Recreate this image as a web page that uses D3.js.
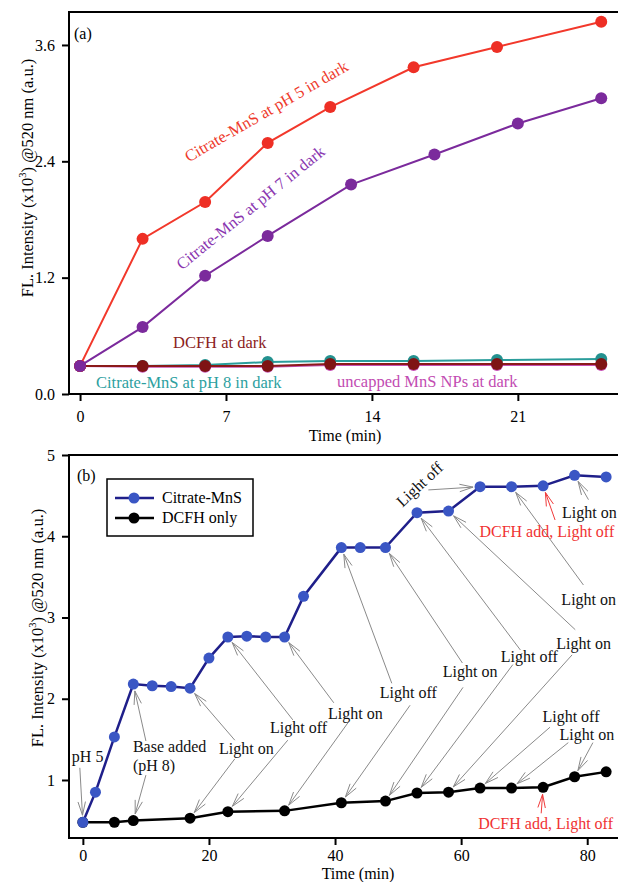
<!DOCTYPE html>
<html>
<head>
<meta charset="utf-8">
<script src="https://cdn.jsdelivr.net/npm/d3@7"></script>
<style>
  body { margin: 0; background: #fff; }
  text { font-family: "Liberation Serif", "DejaVu Serif", serif; }
</style>
</head>
<body>
<div id="chart"></div>
<script>
// ---- panel (a) data ----
const timeA = [0, 3, 6, 9, 12, 16, 20, 25]
const timeA7 = [0, 3, 6, 9, 13, 17, 21, 25]
const pH5Dark = [0.29, 1.60, 1.98, 2.59, 2.96, 3.37, 3.58, 3.84]
const pH7Dark = [0.29, 0.69, 1.22, 1.63, 2.16, 2.47, 2.79, 3.05]
const pH8Dark = [0.29, 0.29, 0.30, 0.33, 0.34, 0.34, 0.35, 0.36]
const uncappedDark = [0.29, 0.28, 0.28, 0.28, 0.30, 0.30, 0.30, 0.30]
const dcfhDark = [0.29, 0.29, 0.29, 0.29, 0.31, 0.31, 0.31, 0.31]
const ticksAx = [0, 7, 14, 21]
const ticksAy = [0, 1.2, 2.4, 3.6]

// ---- panel (b) data ----
const timeB = [0, 2, 5, 8, 11, 14, 17, 20, 23, 26, 29, 32, 35, 41, 44, 48, 53, 58, 63, 68, 73, 78, 83]
const citrateMnS = [0.48, 0.85, 1.53, 2.18, 2.16, 2.15, 2.13, 2.50, 2.76, 2.77, 2.76, 2.76, 3.26,
  3.86, 3.86, 3.86, 4.29, 4.31, 4.61, 4.61, 4.62, 4.75, 4.73]
const timeBdcfh = [0, 5, 8, 17, 23, 32, 41, 48, 53, 58, 63, 68, 73, 78, 83]
const dcfhOnly = [0.48, 0.48, 0.50, 0.53, 0.61, 0.62, 0.72, 0.74, 0.84, 0.85, 0.90, 0.90, 0.91, 1.04, 1.10]
const ticksBx = [0, 20, 40, 60, 80]
const ticksBy = [1, 2, 3, 4, 5]

// annotations of panel (b): text anchor and arrow starts in data units (time, intensity),
// each arrow points at a point of series "c" (Citrate-MnS) or "d" (DCFH only)
const notesB = [
  { text: ["pH 5"], at: [-1.75, 1.22], arrows: [[-0.48, 1.15, "d", 0]] },
  { text: ["Base added", "(pH 8)"], at: [7.94, 1.34], arrows: [[10.0, 1.48, "c", 3], [10.0, 1.06, "d", 2]] },
  { text: ["Light on"], at: [21.6, 1.32], arrows: [[24.1, 1.49, "c", 6], [24.1, 1.26, "d", 3]] },
  { text: ["Light off"], at: [29.7, 1.58], arrows: [[33.3, 1.74, "c", 8], [32.5, 1.49, "d", 4]] },
  { text: ["Light on"], at: [38.9, 1.75], arrows: [[39.8, 1.95, "c", 11], [42.1, 1.71, "d", 5]] },
  { text: ["Light off"], at: [47.1, 2.01], arrows: [[49.0, 2.19, "c", 13], [51.9, 1.92, "d", 6]] },
  { text: ["Light on"], at: [57.1, 2.27], arrows: [[60.2, 2.44, "c", 15], [60.3, 2.14, "d", 7]] },
  { text: ["Light off"], at: [66.3, 2.45], arrows: [[69.4, 2.60, "c", 16], [68.2, 2.42, "d", 8]] },
  { text: ["Light on"], at: [75.1, 2.61], arrows: [[78.1, 2.85, "c", 17], [77.6, 2.54, "d", 9]] },
  { text: ["Light on"], at: [75.9, 3.15], arrows: [[79.4, 3.40, "c", 19]] },
  { text: ["Light off"], at: [72.9, 1.71], arrows: [[74.1, 1.65, "d", 10]] },
  { text: ["Light on"], at: [75.6, 1.49], arrows: [[77.0, 1.46, "d", 11], [80.9, 1.46, "d", 13]] },
  { text: ["Light on"], at: [76.0, 4.22], arrows: [[80.2, 4.45, "c", 21]] },
  { text: ["DCFH add, Light off"], at: [62.9, 3.99], arrows: [[74.9, 4.20, "c", 20]], red: true },
  { text: ["DCFH add, Light off"], at: [62.7, 0.40], arrows: [[72.7, 0.59, "d", 12]], red: true },
  { text: ["Light off"], at: [54.0, 4.59], arrows: [[54.8, 4.57, "c", 18]], rotate: -43 }
]

const W = 618, H = 882
const svg = d3.select("#chart").append("svg").attr("width", W).attr("height", H)

const xA = d3.scaleLinear().domain([-0.53, 25.9]).range([69, 620])
const yA = d3.scaleLinear().domain([0, 3.94]).range([394, 12])
const xB = d3.scaleLinear().domain([-2.2, 85.2]).range([69, 620])
const yB = d3.scaleLinear().domain([0.286, 5]).range([838, 455])

function frame(x, y) {
  svg.append("rect")
    .attr("x", x.range()[0]).attr("y", y.range()[1])
    .attr("width", x.range()[1] - x.range()[0]).attr("height", y.range()[0] - y.range()[1])
    .attr("fill", "none").attr("stroke", "#000").attr("stroke-width", 2)
}

function axes(x, y, tx, ty, fmt, padX) {
  const gx = svg.append("g").attr("transform", `translate(0,${y.range()[0]})`)
    .call(d3.axisBottom(x).tickValues(tx).tickSize(7).tickSizeOuter(0).tickPadding(padX))
  const gy = svg.append("g").attr("transform", `translate(${x.range()[0]},0)`)
    .call(d3.axisLeft(y).tickValues(ty).tickFormat(fmt).tickSize(7).tickSizeOuter(0).tickPadding(7))
  for (const g of [gx, gy]) {
    g.select(".domain").remove()
    g.selectAll("line").attr("stroke-width", 2)
    g.selectAll("text").attr("font-size", 16).attr("fill", "#000")
      .style("font-family", "Liberation Serif")
  }
}

function yTitle(cx, cy) {
  const t = svg.append("text").attr("transform", `translate(${cx},${cy}) rotate(-90)`)
    .attr("text-anchor", "middle").attr("font-size", 16.5)
  t.append("tspan").text("FL. Intensity (x10")
  t.append("tspan").text("3").attr("font-size", 10.5).attr("dy", -7)
  t.append("tspan").text(") @520 nm (a.u.)").attr("dy", 7)
}

function series(x, y, xs, ys, lineColor, dotColor, r, w) {
  const pts = xs.map((t, i) => [t, ys[i]])
  svg.append("path").datum(pts)
    .attr("d", d3.line().x(d => x(d[0])).y(d => y(d[1])))
    .attr("fill", "none").attr("stroke", lineColor).attr("stroke-width", w)
  svg.append("g").selectAll("circle").data(pts).enter().append("circle")
    .attr("cx", d => x(d[0])).attr("cy", d => y(d[1])).attr("r", r)
    .attr("fill", dotColor)
}

// ===== panel (a) =====
frame(xA, yA)
axes(xA, yA, ticksAx, ticksAy, d3.format(".1f"), 10)
yTitle(33, 178)
svg.append("text").attr("x", 345).attr("y", 441).attr("text-anchor", "middle")
  .attr("font-size", 16).text("Time (min)")
svg.append("text").attr("x", 74).attr("y", 39).attr("font-size", 16).text("(a)")

series(xA, yA, timeA, pH8Dark, "#2a9d9b", "#23918f", 6, 2)
series(xA, yA, timeA, uncappedDark, "#c64fb4", "#c64fb4", 6, 2)
series(xA, yA, timeA, dcfhDark, "#8b1a1a", "#7f1414", 6, 2)
series(xA, yA, timeA, pH5Dark, "#f2382b", "#ee2f25", 6, 2)
series(xA, yA, timeA7, pH7Dark, "#7b2a9c", "#7b2a9c", 6, 2)

svg.append("text").attr("transform", "translate(269,116) rotate(-30)")
  .attr("text-anchor", "middle").attr("font-size", 16.5).attr("fill", "#ee3a2c")
  .text("Citrate-MnS at pH 5 in dark")
svg.append("text").attr("transform", "translate(254,212) rotate(-39)")
  .attr("text-anchor", "middle").attr("font-size", 16.5).attr("fill", "#8a36b0")
  .text("Citrate-MnS at pH 7 in dark")
svg.append("text").attr("x", 173).attr("y", 348).attr("font-size", 16.5).attr("fill", "#8b2222")
  .text("DCFH at dark")
svg.append("text").attr("x", 96).attr("y", 388).attr("font-size", 16.5).attr("fill", "#2d9f9f")
  .text("Citrate-MnS at pH 8 in dark")
svg.append("text").attr("x", 337).attr("y", 387).attr("font-size", 16.5).attr("fill", "#c24cb2")
  .text("uncapped MnS NPs at dark")

// ===== panel (b) =====
frame(xB, yB)
axes(xB, yB, ticksBx, ticksBy, d3.format("d"), 5)
yTitle(43, 628)
svg.append("text").attr("x", 358).attr("y", 879).attr("text-anchor", "middle")
  .attr("font-size", 16).text("Time (min)")
svg.append("text").attr("x", 77).attr("y", 481).attr("font-size", 16).text("(b)")

function arrow(x1, y1, x2, y2, color) {
  const a = Math.atan2(y2 - y1, x2 - x1)
  const tx = x2 - 7 * Math.cos(a), ty = y2 - 7 * Math.sin(a)
  const L = 14, s = 0.27
  const g = svg.append("g").attr("stroke", color).attr("stroke-width", 1).attr("fill", "none")
  g.append("line").attr("x1", x1).attr("y1", y1).attr("x2", tx).attr("y2", ty)
  g.append("path").attr("d",
    `M${tx - L * Math.cos(a - s)},${ty - L * Math.sin(a - s)}L${tx},${ty}` +
    `L${tx - L * Math.cos(a + s)},${ty - L * Math.sin(a + s)}`)
}

const seriesB = { c: [timeB, citrateMnS], d: [timeBdcfh, dcfhOnly] }
notesB.forEach(n => {
  const color = n.red ? "#f03a3a" : "#8a8a8a"
  n.arrows.forEach(([t, v, s, i]) => {
    const [xs, ys] = seriesB[s]
    arrow(xB(t), yB(v), xB(xs[i]), yB(ys[i]), color)
  })
})

series(xB, yB, timeBdcfh, dcfhOnly, "#000", "#000", 5.5, 2.5)
series(xB, yB, timeB, citrateMnS, "#1f1f8a", "#3a56c4", 5.5, 2.5)

notesB.forEach(n => {
  const px = xB(n.at[0]), py = yB(n.at[1])
  const t = svg.append("text").attr("font-size", 16).attr("fill", n.red ? "#f03232" : "#111")
  if (n.rotate) {
    t.attr("transform", `translate(${px},${py}) rotate(${n.rotate})`).attr("text-anchor", "middle")
      .text(n.text[0])
  } else {
    n.text.forEach((s, k) => t.append("tspan").attr("x", px).attr("y", py + k * 19).text(s))
  }
})

// legend
const lg = svg.append("g")
lg.append("rect").attr("x", 107).attr("y", 479).attr("width", 146).attr("height", 57)
  .attr("fill", "#fff").attr("stroke", "#000").attr("stroke-width", 1.5)
const legendItems = [["Citrate-MnS", "#1f1f8a", "#3a56c4"], ["DCFH only", "#000", "#000"]]
legendItems.forEach(([name, lc, dc], k) => {
  const y = 498 + k * 20
  lg.append("line").attr("x1", 115).attr("x2", 154).attr("y1", y).attr("y2", y)
    .attr("stroke", lc).attr("stroke-width", 2.5)
  lg.append("circle").attr("cx", 134).attr("cy", y).attr("r", 5.5).attr("fill", dc)
  lg.append("text").attr("x", 162).attr("y", y + 5).attr("font-size", 16).text(name)
})
</script>
</body>
</html>
